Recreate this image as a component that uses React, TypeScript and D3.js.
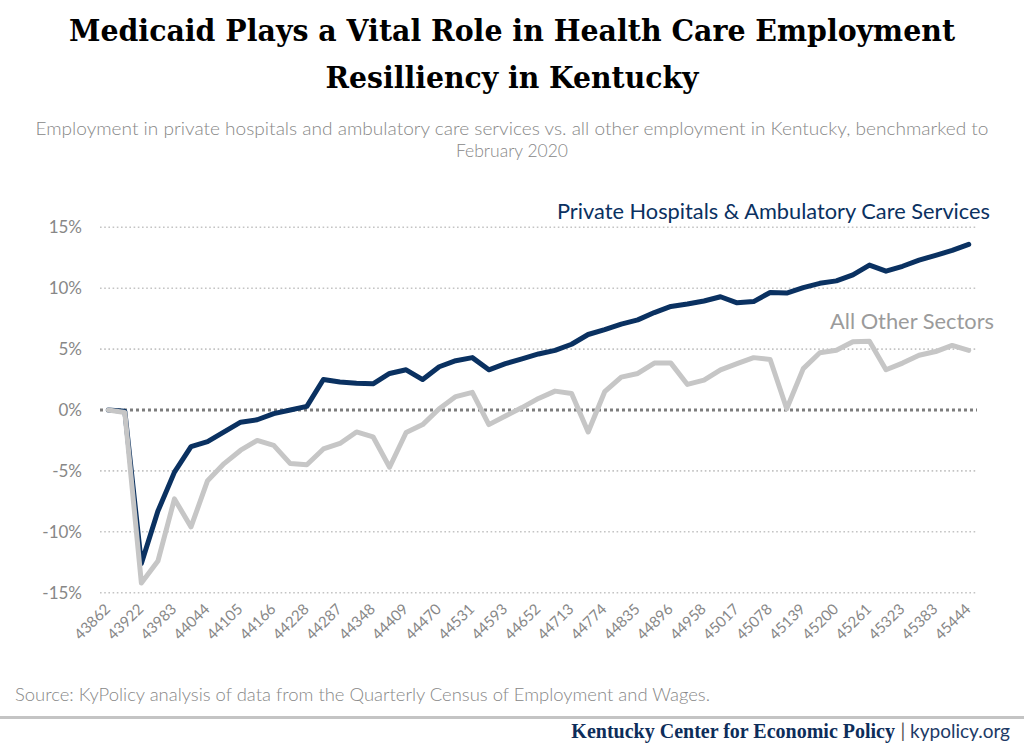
import React from "react";
import * as d3 from "d3";

const months: number[] = [
  43862, 43891, 43922, 43952, 43983, 44013, 44044, 44075, 44105, 44136, 44166,
  44197, 44228, 44256, 44287, 44317, 44348, 44378, 44409, 44440, 44470, 44501, 44531,
  44562, 44593, 44621, 44652, 44682, 44713, 44743, 44774, 44805, 44835, 44866, 44896,
  44927, 44958, 44986, 45017, 45047, 45078, 45108, 45139, 45170, 45200, 45231, 45261,
  45292, 45323, 45352, 45383, 45413, 45444,
];

const hospitals: number[] = [
  0, -0.1, -12.6, -8.3, -5.1, -3.0, -2.6, -1.8, -1.0, -0.8, -0.3, 0.0,
  0.3, 2.5, 2.3, 2.2, 2.15, 3.0, 3.3, 2.5, 3.55, 4.05, 4.3, 3.3,
  3.8, 4.2, 4.6, 4.9, 5.4, 6.2, 6.6, 7.05, 7.4, 8.0, 8.5, 8.7,
  8.95, 9.3, 8.8, 8.9, 9.65, 9.6, 10.05, 10.4, 10.6, 11.1, 11.9, 11.4,
  11.8, 12.3, 12.7, 13.1, 13.6,
];

const otherSectors: number[] = [
  0, -0.2, -14.2, -12.4, -7.3, -9.6, -5.8, -4.4, -3.3, -2.5, -2.9, -4.4,
  -4.5, -3.2, -2.75, -1.8, -2.2, -4.7, -1.85, -1.2, 0.1, 1.1, 1.45, -1.2,
  -0.5, 0.2, 0.95, 1.55, 1.35, -1.8, 1.5, 2.7, 3.0, 3.85, 3.85, 2.1,
  2.45, 3.3, 3.8, 4.3, 4.15, 0.1, 3.4, 4.7, 4.9, 5.6, 5.65, 3.3,
  3.85, 4.5, 4.8, 5.3, 4.9,
];

const yTicks: number[] = [15, 10, 5, 0, -5, -10, -15];
const tickLabels: number[] = months.filter((_, i) => i % 2 === 0);

const title1 = "Medicaid Plays a Vital Role in Health Care Employment";
const title2 = "Resilliency in Kentucky";
const subtitle1 =
  "Employment in private hospitals and ambulatory care services vs. all other employment in Kentucky, benchmarked to";
const subtitle2 = "February 2020";
const source = "Source: KyPolicy analysis of data from the Quarterly Census of Employment and Wages.";

const NAVY = "#0a3161";
const GRAY_LINE = "#c6c6c6";
const TEXT_GRAY = "#878787";
const SANS = "Lato, 'Open Sans', sans-serif";

export default function App() {
  const W = 1024;
  const H = 751;
  const left = 100;
  const right = 977;

  const x = d3
    .scalePoint<number>()
    .domain(months)
    .range([left, right])
    .padding(0.5);
  const y = d3.scaleLinear().domain([-15, 15]).range([592.7, 227.3]);

  const line = d3
    .line<number>()
    .x((_, i) => x(months[i]) as number)
    .y((d) => y(d));

  return (
    <svg
      width={W}
      height={H}
      style={{ position: "absolute", left: 0, top: 0, display: "block", background: "#fff" }}
    >
      {/* Title */}
      <text
        x={W / 2}
        y={41}
        textAnchor="middle"
        fontFamily="'DejaVu Serif', serif"
        fontWeight="bold"
        fontSize={29}
        textLength={886}
        lengthAdjust="spacingAndGlyphs"
        fill="#000"
      >
        {title1}
      </text>
      <text
        x={W / 2}
        y={88}
        textAnchor="middle"
        fontFamily="'DejaVu Serif', serif"
        fontWeight="bold"
        fontSize={29}
        textLength={373}
        lengthAdjust="spacingAndGlyphs"
        fill="#000"
      >
        {title2}
      </text>
      {/* Subtitle */}
      <text
        x={W / 2}
        y={135}
        textAnchor="middle"
        fontFamily={SANS}
        fontWeight={300}
        fontSize={17.5}
        textLength={953}
        lengthAdjust="spacingAndGlyphs"
        fill={TEXT_GRAY}
      >
        {subtitle1}
      </text>
      <text
        x={W / 2}
        y={157}
        textAnchor="middle"
        fontFamily={SANS}
        fontWeight={300}
        fontSize={17.5}
        fill={TEXT_GRAY}
      >
        {subtitle2}
      </text>

      {/* Grid */}
      {yTicks.map((t) =>
        t === 0 ? null : (
          <line
            key={t}
            x1={left}
            x2={right}
            y1={y(t)}
            y2={y(t)}
            stroke="#c4c4c4"
            strokeWidth={1.6}
            strokeDasharray="1.6,2.6"
          />
        )
      )}
      {yTicks.map((t) => (
        <text
          key={"l" + t}
          x={82}
          y={y(t)}
          dy="0.35em"
          textAnchor="end"
          fontFamily={SANS}
          fontSize={17}
          fill={TEXT_GRAY}
        >
          {t + "%"}
        </text>
      ))}
      <line
        x1={left}
        x2={right}
        y1={y(0)}
        y2={y(0)}
        stroke="#7d7d7d"
        strokeWidth={3}
        strokeDasharray="3,3"
      />

      {/* X labels */}
      {tickLabels.map((m) => {
        const px = (x(m) as number) + 3;
        const py = 610;
        return (
          <text
            key={m}
            transform={`translate(${px},${py}) rotate(-45)`}
            textAnchor="end"
            fontFamily={SANS}
            fontSize={15}
            fill={TEXT_GRAY}
          >
            {m}
          </text>
        );
      })}

      {/* Lines */}
      <path
        d={line(hospitals) as string}
        fill="none"
        stroke={NAVY}
        strokeWidth={5}
        strokeLinejoin="round"
        strokeLinecap="round"
      />
      <path
        d={line(otherSectors) as string}
        fill="none"
        stroke={GRAY_LINE}
        strokeWidth={5}
        strokeLinejoin="round"
        strokeLinecap="round"
      />

      {/* Series labels */}
      <text
        x={990}
        y={219}
        textAnchor="end"
        fontFamily={SANS}
        fontSize={21}
        textLength={433}
        lengthAdjust="spacingAndGlyphs"
        fill={NAVY}
      >
        Private Hospitals &amp; Ambulatory Care Services
      </text>
      <text
        x={994}
        y={329}
        textAnchor="end"
        fontFamily={SANS}
        fontSize={21}
        textLength={164}
        lengthAdjust="spacingAndGlyphs"
        fill="#9b9b9b"
      >
        All Other Sectors
      </text>

      {/* Source */}
      <text
        x={15}
        y={701}
        fontFamily={SANS}
        fontWeight={300}
        fontSize={17}
        textLength={695}
        lengthAdjust="spacingAndGlyphs"
        fill={TEXT_GRAY}
      >
        {source}
      </text>
      <line x1={0} x2={W} y1={717.5} y2={717.5} stroke="#c4c4c4" strokeWidth={3} />
      <text
        x={895}
        y={738}
        textAnchor="end"
        fontFamily="'Liberation Serif', serif"
        fontWeight="bold"
        fontSize={20}
        fill="#0d2d5a"
      >
        Kentucky Center for Economic Policy
      </text>
      <text
        x={1010}
        y={738}
        textAnchor="end"
        fontFamily={SANS}
        fontSize={19}
        fill="#1d3a66"
      >
        <tspan fill="#555">|</tspan> kypolicy.org
      </text>
    </svg>
  );
}
